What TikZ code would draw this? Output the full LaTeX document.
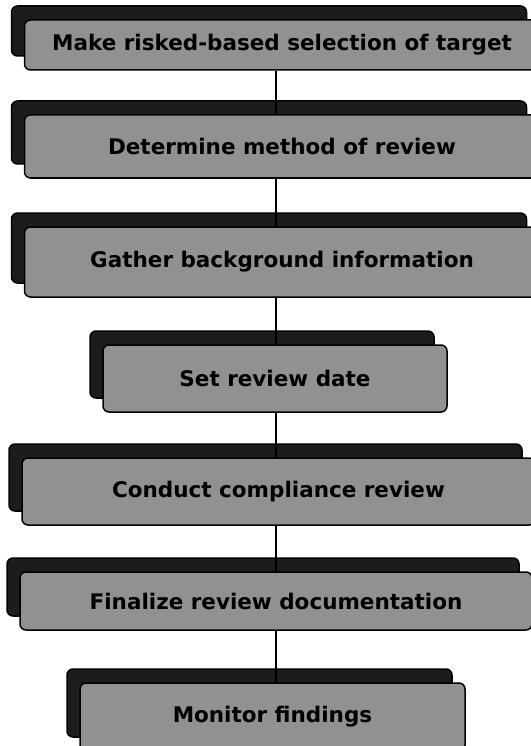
\documentclass[tikz,border=0pt]{standalone}
\usepackage{fontspec}
\setmainfont{DejaVu Sans}
\usetikzlibrary{shadows}
\definecolor{boxgray}{RGB}{145,145,145}
\definecolor{shadowgray}{RGB}{28,28,28}
\begin{document}
\begin{tikzpicture}[x=1pt,y=-1pt]
    \tikzstyle{every node}+=[inner sep=0pt]
    \tikzstyle{stepbox}=[draw=black, line width=1.5pt, rounded corners=6pt, fill=boxgray, font=\fontsize{21.5}{25}\selectfont\bfseries, copy shadow={shadow xshift=-13pt, shadow yshift=14pt, fill=shadowgray, draw=black}]
    \tikzstyle{link}=[black, line width=1.8pt]
    \useasboundingbox (0,0) rectangle (530,746);
    \coordinate (spine) at (276,0);
    \node [stepbox, minimum width=515pt, minimum height=50pt] (target) at (282,45) {Make risked-based selection of target};
    \node [stepbox, minimum width=515pt, minimum height=63pt] (method) at (282,146.5) {Determine method of review};
    \node [stepbox, minimum width=515pt, minimum height=70pt] (gather) at (282,262) {Gather background information};
    \node [stepbox, minimum width=344pt, minimum height=67pt] (date) at (275,378.5) {Set review date};
    \node [stepbox, minimum width=513pt, minimum height=67pt] (conduct) at (278.5,491.5) {Conduct compliance review};
    \node [stepbox, minimum width=512pt, minimum height=58pt] (finalize) at (276,601) {Finalize review documentation};
    \node [stepbox, minimum width=385pt, minimum height=68pt] (monitor) at (272.5,717) {Monitor findings};
    \draw [link] (target.south -| spine) -- (method.north -| spine);
    \draw [link] (method.south -| spine) -- (gather.north -| spine);
    \draw [link] (gather.south -| spine) -- (date.north -| spine);
    \draw [link] (date.south -| spine) -- (conduct.north -| spine);
    \draw [link] (conduct.south -| spine) -- (finalize.north -| spine);
    \draw [link] (finalize.south -| spine) -- (monitor.north -| spine);
\end{tikzpicture}
\end{document}
